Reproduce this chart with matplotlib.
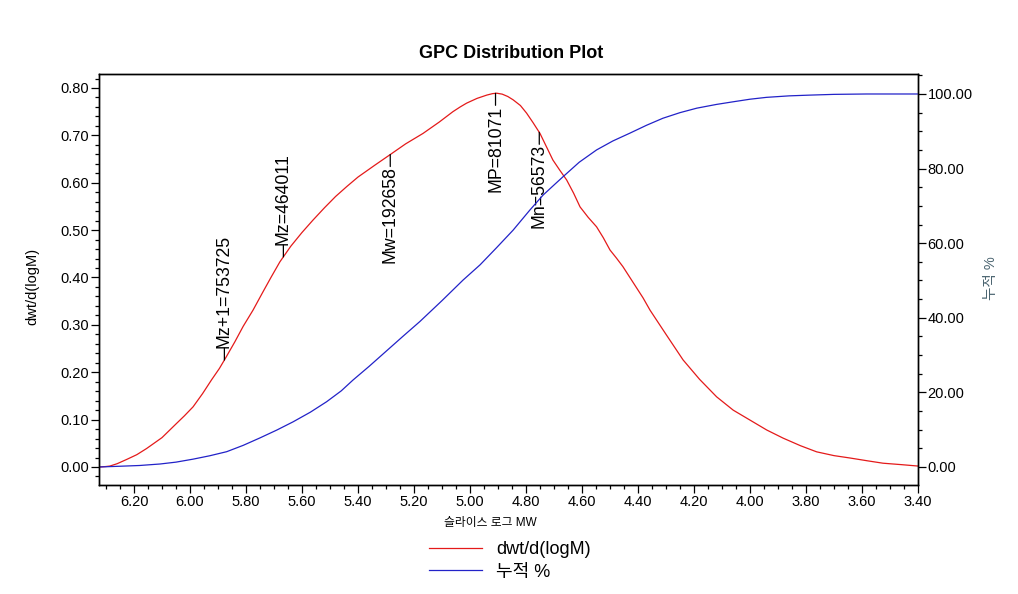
import numpy as np
import matplotlib
matplotlib.use('Agg')
from matplotlib import pyplot as plt
from matplotlib.ticker import MultipleLocator, FormatStrFormatter

plt.rcParams['font.family'] = ['Liberation Sans', 'Noto Sans CJK KR']

# slice log MW (x axis runs from high to low)
log_mw = [6.325, 6.30, 6.286, 6.26, 6.226, 6.19, 6.155, 6.10, 6.048, 6.02,
          5.989, 5.955, 5.923, 5.895, 5.871, 5.84, 5.81, 5.775, 5.74, 5.71,
          5.679, 5.64, 5.60, 5.561, 5.52, 5.48, 5.44, 5.40, 5.34, 5.286,
          5.23, 5.168, 5.11, 5.061, 5.035, 5.012, 4.975, 4.940, 4.92, 4.905,
          4.885, 4.865, 4.846, 4.82, 4.798, 4.775, 4.750, 4.727, 4.704, 4.68,
          4.655, 4.63, 4.607, 4.578, 4.548, 4.524, 4.500, 4.477, 4.454, 4.418,
          4.382, 4.357, 4.30, 4.239, 4.18, 4.119, 4.06, 4.000, 3.94, 3.882,
          3.82, 3.762, 3.70, 3.643, 3.58, 3.525, 3.46, 3.400]
dwt = [0.000, 0.001, 0.002, 0.007, 0.016, 0.026, 0.039, 0.062, 0.092, 0.108,
       0.127, 0.155, 0.184, 0.208, 0.232, 0.264, 0.297, 0.331, 0.369, 0.401,
       0.433, 0.466, 0.495, 0.521, 0.547, 0.571, 0.592, 0.612, 0.637, 0.659,
       0.682, 0.704, 0.728, 0.750, 0.760, 0.768, 0.778, 0.785, 0.788, 0.789,
       0.787, 0.782, 0.775, 0.763, 0.747, 0.727, 0.704, 0.676, 0.648, 0.627,
       0.606, 0.578, 0.549, 0.527, 0.507, 0.484, 0.458, 0.441, 0.423, 0.390,
       0.357, 0.331, 0.280, 0.226, 0.185, 0.148, 0.120, 0.099, 0.078, 0.061,
       0.045, 0.032, 0.024, 0.019, 0.013, 0.008, 0.005, 0.002]

cum_x = [6.325, 6.25, 6.18, 6.107, 6.05, 5.989, 5.93, 5.869, 5.81, 5.750,
         5.69, 5.632, 5.57, 5.512, 5.46, 5.418, 5.36, 5.30, 5.24, 5.179,
         5.10, 5.025, 4.964, 4.905, 4.846, 4.786, 4.739, 4.700, 4.668, 4.61,
         4.548, 4.49, 4.429, 4.37, 4.311, 4.25, 4.190, 4.12, 4.061, 4.00,
         3.941, 3.86, 3.786, 3.70, 3.584, 3.400]
cum_pct = [0.0, 0.2, 0.4, 0.8, 1.3, 2.1, 3.0, 4.1, 5.8, 7.8,
           9.9, 12.1, 14.7, 17.5, 20.4, 23.3, 27.0, 31.0, 35.0, 39.0,
           44.6, 50.1, 54.2, 58.8, 63.5, 68.9, 72.9, 75.6, 77.8, 81.7,
           85.0, 87.4, 89.5, 91.6, 93.5, 95.0, 96.2, 97.2, 97.9, 98.6,
           99.1, 99.5, 99.7, 99.9, 100.0, 100.0]

avg_names = ['Mz+1=753725', 'Mz=464011', 'Mw=192658', 'MP=81071', 'Mn=56573']
avg_values = [753725, 464011, 192658, 81071, 56573]
avg_up = [True, True, False, False, False]

fig = plt.figure(figsize=(10.18, 5.94), dpi=100)
ax = fig.add_axes([99 / 1018, 1 - 485 / 594, 819 / 1018, 411 / 594])
ax2 = ax.twinx()

l1, = ax.plot(log_mw, dwt, color='#e41a1a', lw=0.9)
l2, = ax2.plot(cum_x, cum_pct, color='#2222c8', lw=0.9)

ax.set_xlim(6.325, 3.40)
ax.set_ylim(-0.038, 0.8295)
ax2.set_ylim(-4.83, 105.36)

ax.xaxis.set_major_locator(MultipleLocator(0.2))
ax.xaxis.set_minor_locator(MultipleLocator(0.05))
ax.xaxis.set_major_formatter(FormatStrFormatter('%.2f'))
ax.yaxis.set_major_locator(MultipleLocator(0.1))
ax.yaxis.set_minor_locator(MultipleLocator(0.02))
ax.yaxis.set_major_formatter(FormatStrFormatter('%.2f'))
ax2.yaxis.set_major_locator(MultipleLocator(20))
ax2.yaxis.set_minor_locator(MultipleLocator(5))
ax2.yaxis.set_major_formatter(FormatStrFormatter('%.2f'))

for a in (ax, ax2):
    a.tick_params(which='major', direction='out', length=5.5, width=0.9, labelsize=10.5, pad=1.5)
    a.tick_params(which='minor', direction='out', length=3, width=0.9)
    for s in a.spines.values():
        s.set_linewidth(1.0)

# average MW markers on the distribution curve
xs = np.log10(avg_values)
ys = np.interp(xs, log_mw[::-1], dwt[::-1])
for name, x, y, up in zip(avg_names, xs, ys, avg_up):
    ax.annotate(name, xy=(x, y), xytext=(0, 12 if up else -12), textcoords='offset pixels',
                rotation=90, ha='center', va='bottom' if up else 'top', fontsize=12.7,
                arrowprops=dict(arrowstyle='-', color='black', lw=0.9, shrinkA=0, shrinkB=0,
                                patchA=None, relpos=(0.5, 0.0) if up else (0.5, 1.0)))

fig.text(511 / 1018, 1 - 53 / 594, 'GPC Distribution Plot', ha='center', va='center',
         fontsize=13, fontweight='bold')
fig.text(32 / 1018, 1 - 286 / 594, 'dwt/d(logM)', rotation=90, ha='center', va='center', fontsize=10.5)
fig.text(991 / 1018, 1 - 278 / 594, '누적 %', rotation=90, ha='center', va='center',
         fontsize=10.5, color='#4a6470')
fig.text(490 / 1018, 1 - 523 / 594, '슬라이스 로그 MW', ha='center', va='center', fontsize=8.5)

fig.legend([l1, l2], ['dwt/d(logM)', '누적 %'], loc='center', bbox_to_anchor=(510 / 1018, 1 - 561 / 594),
           frameon=False, fontsize=13, handlelength=2.9, handletextpad=0.8, labelspacing=0.3)

fig.savefig('out.png', dpi=100)
